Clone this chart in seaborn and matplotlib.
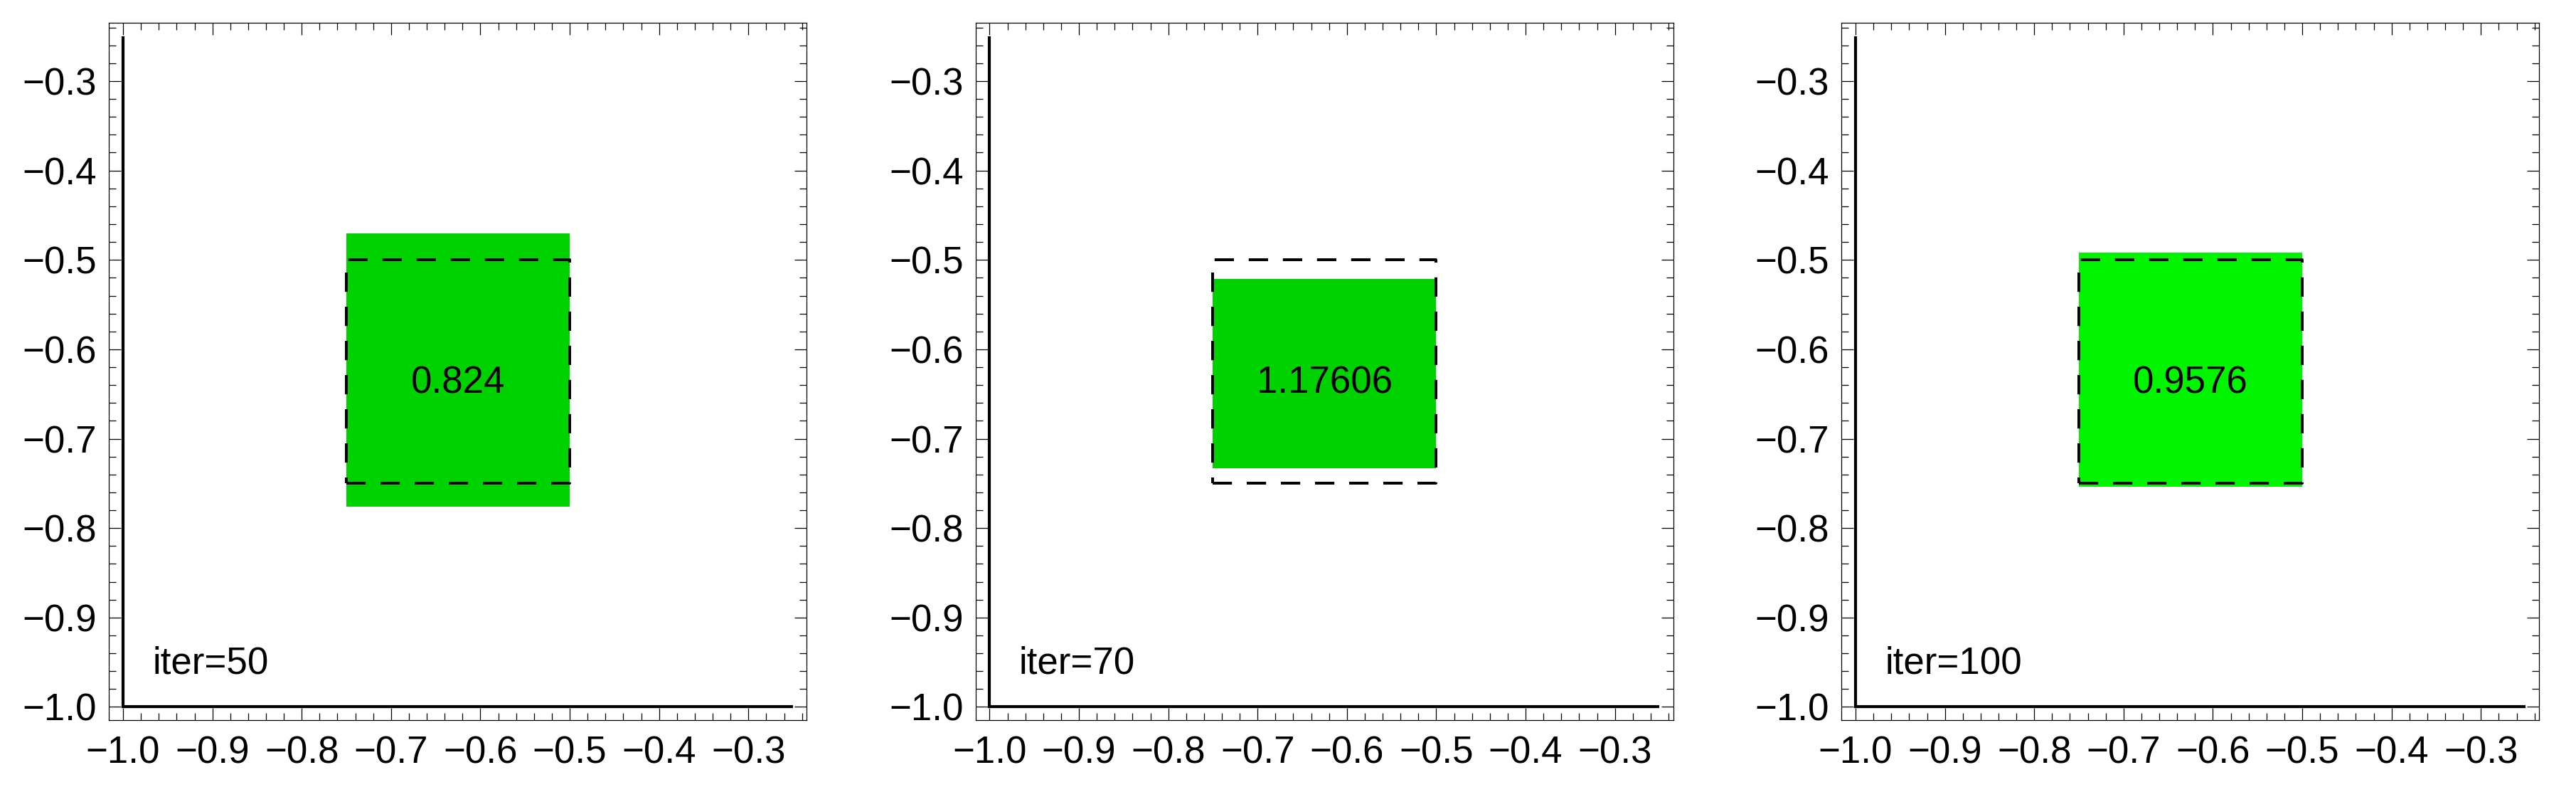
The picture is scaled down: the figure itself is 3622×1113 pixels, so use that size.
import matplotlib
matplotlib.use("Agg")
import matplotlib.pyplot as plt
from matplotlib.ticker import MultipleLocator, FixedLocator, FixedFormatter
import seaborn as sns
import numpy as np
import pandas as pd

# ---------------- data ----------------
iters = [50, 70, 100]
value_labels = ["0.824", "1.17606", "0.9576"]
rect_left = [-0.75, -0.75, -0.75]
rect_right = [-0.5, -0.5, -0.5]
rect_bottom = [-0.776, -0.733, -0.754]
rect_top = [-0.470, -0.521, -0.492]
fill_colors = ["#00D200", "#00D200", "#00F400"]

ref_box_x = [-0.75, -0.50, -0.50, -0.75, -0.75]
ref_box_y = [-0.75, -0.75, -0.50, -0.50, -0.75]

axes_line_x = [-1.0, -1.0, -0.25]
axes_line_y = [-0.25, -1.0, -1.0]

major_ticks = [-1.0, -0.9, -0.8, -0.7, -0.6, -0.5, -0.4, -0.3]
tick_labels = ["\u22121.0", "\u22120.9", "\u22120.8", "\u22120.7",
               "\u22120.6", "\u22120.5", "\u22120.4", "\u22120.3"]

# ---------------- style ----------------
sns.set_theme(style="ticks")
plt.rcParams["font.family"] = ["Liberation Sans", "DejaVu Sans"]
plt.rcParams["axes.unicode_minus"] = True

W, H, DPI = 3622, 1113, 300
fig = plt.figure(figsize=(W / DPI, H / DPI), dpi=DPI)
fig.patch.set_facecolor("white")

lefts = [153.3 / W, 1371.7 / W, 2589.3 / W]
ax_w = 981 / W
ax_b = (H - 1012.3) / H
ax_h = 980 / H

FS = 12.7

for i in range(3):
    ax = fig.add_axes([lefts[i], ax_b, ax_w, ax_h])
    ax.set_facecolor("white")

    # green rectangle
    ax.fill_between([rect_left[i], rect_right[i]], rect_bottom[i], rect_top[i],
                    color=fill_colors[i], linewidth=0, zorder=1)

    # dashed reference square
    box_df = pd.DataFrame({"x": ref_box_x, "y": ref_box_y})
    sns.lineplot(data=box_df, x="x", y="y", sort=False, estimator=None, ax=ax,
                 color="black", linewidth=0.96, linestyle=(0, (6.8, 5.2)),
                 zorder=3)

    # axes lines (Mathematica style L)
    axl_df = pd.DataFrame({"x": axes_line_x, "y": axes_line_y})
    sns.lineplot(data=axl_df, x="x", y="y", sort=False, estimator=None, ax=ax,
                 color="black", linewidth=1.0, zorder=4,
                 solid_joinstyle="miter", solid_capstyle="butt")

    # texts
    ax.text(-0.625, -0.649, value_labels[i], ha="center", va="baseline",
            fontsize=FS, color="black", zorder=5)
    ax.text(-0.967, -0.963, f"iter={iters[i]}", ha="left", va="baseline",
            fontsize=FS, color="black", zorder=5)

    ax.set_xlim(-1.0157, -0.2347)
    ax.set_ylim(-1.0150, -0.2350)
    ax.set_xlabel("")
    ax.set_ylabel("")

    for axis in (ax.xaxis, ax.yaxis):
        axis.set_major_locator(FixedLocator(major_ticks))
        axis.set_major_formatter(FixedFormatter(tick_labels))
        axis.set_minor_locator(MultipleLocator(0.02))

    ax.tick_params(which="both", direction="in", top=True, right=True,
                   width=0.3, color="black", labelcolor="black",
                   labelsize=FS)
    ax.tick_params(which="major", length=4.1)
    ax.tick_params(which="minor", length=2.4)
    ax.tick_params(axis="x", which="major", pad=5.0)
    ax.tick_params(axis="y", which="major", pad=4.1)

    for sp in ax.spines.values():
        sp.set_visible(True)
        sp.set_linewidth(0.3)
        sp.set_color("black")

    leg = ax.get_legend()
    if leg is not None:
        leg.remove()

fig.savefig("out.png", dpi=DPI, facecolor="white")
